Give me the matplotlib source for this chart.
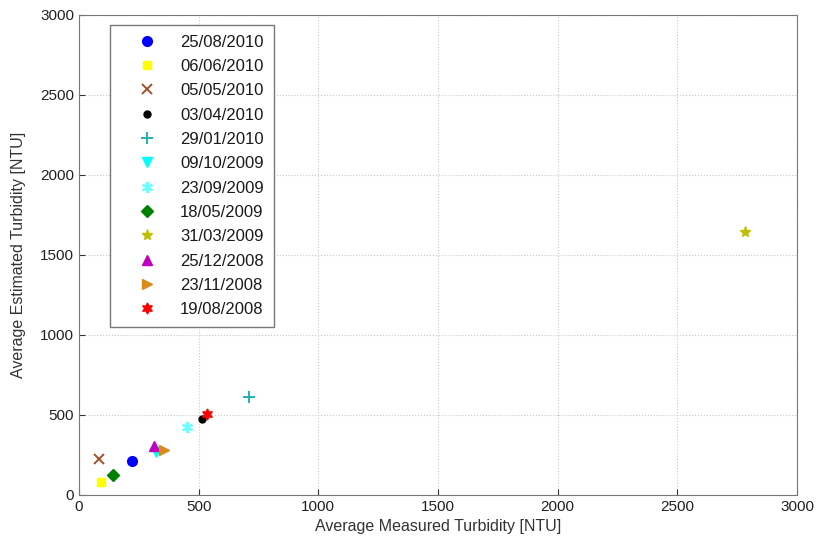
import matplotlib
matplotlib.use("Agg")
import matplotlib.pyplot as plt

plt.rcParams['font.family'] = ['Liberation Sans', 'DejaVu Sans']

# =========================
# DATA
# =========================
dates = ["25/08/2010", "06/06/2010", "05/05/2010", "03/04/2010", "29/01/2010",
         "09/10/2009", "23/09/2009", "18/05/2009", "31/03/2009", "25/12/2008",
         "23/11/2008", "19/08/2008"]
measured = [223, 91, 85, 515, 712, 322, 453, 141, 2783, 315, 355, 534]
estimated = [214, 83, 223, 473, 610, 271, 427, 125, 1646, 308, 281, 504]

markers = ["o", "s", "x", "o", "+", "v", (6, 2, 0), "D", "*", "^", ">", (6, 1, 0)]
colors = ["#0000ff", "#ffff00", "#a0522d", "#000000", "#20b2b2", "#00ffff",
          "#66ffff", "#008000", "#bfbf00", "#bf00bf", "#d98a1c", "#ff0000"]
sizes = [7, 6, 7, 5, 8, 7, 8, 6, 8, 7, 7, 8]

# =========================
# PLOT
# =========================
fig = plt.figure(figsize=(8.18, 5.47), dpi=100)
ax = fig.add_axes([0.0966, 0.0951, 0.8777, 0.8775])

for d, x, y, m, c, s in zip(dates, measured, estimated, markers, colors, sizes):
    lined = m in ("x", "+") or m == (6, 2, 0)
    ax.plot([x], [y], linestyle="none", marker=m, color=c, markersize=s,
            markeredgewidth=1.4 if lined else 1.0, label=d)

ax.set_xlim(0, 3000)
ax.set_ylim(0, 3000)
ax.set_xticks(range(0, 3001, 500))
ax.set_yticks(range(0, 3001, 500))
ax.grid(True, linestyle=":", color="#c8c8c8", linewidth=0.8)
ax.tick_params(direction="in", labelsize=11, length=4, color="#333333",
               labelcolor="#222222")
for sp in ax.spines.values():
    sp.set_color("#777777")

ax.set_xlabel("Average Measured Turbidity [NTU]", fontsize=11.5, color="#333333")
ax.set_ylabel("Average Estimated Turbidity [NTU]", fontsize=11.5, color="#333333",
              labelpad=10)

leg = ax.legend(loc="upper left", bbox_to_anchor=(0.043, 0.98), fontsize=12,
                fancybox=False, framealpha=1, edgecolor="#777777",
                handletextpad=0.3, labelspacing=0.56, borderpad=0.6,
                handlelength=3.3, borderaxespad=0)
for t in leg.get_texts():
    t.set_color("#1a1a1a")

fig.savefig("out.png", dpi=100)
